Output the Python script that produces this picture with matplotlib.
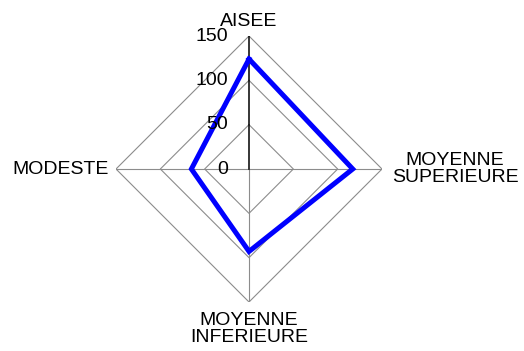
import numpy as np
import matplotlib
matplotlib.use("Agg")
from matplotlib import pyplot as plt

plt.rcParams['font.family'] = ['Liberation Sans', 'DejaVu Sans']

categories = ['AISEE', 'MOYENNE\nSUPERIEURE', 'MOYENNE\nINFERIEURE', 'MODESTE']
values = [124, 117, 93, 65]
rings = [50, 100, 150]
tick_labels = [0, 50, 100, 150]

theta = np.arange(len(categories)) * 2 * np.pi / len(categories)

fig = plt.figure(figsize=(5.24, 3.51), dpi=100)
ax = fig.add_axes([0.2214, 0.1396, 0.5076, 0.7578], projection='polar')
ax.set_theta_zero_location('N')
ax.set_theta_direction(-1)
ax.set_ylim(0, 150)
ax.grid(False)
ax.spines['polar'].set_visible(False)
ax.set_xticks([])
ax.set_yticks([])
ax.patch.set_visible(False)

# diamond grid rings
closed = np.append(theta, theta[0])
for r in rings:
    ax.plot(closed, [r] * len(closed), color='#8c8c8c', lw=0.8, zorder=1)

# spokes, the value axis drawn in black
for i, t in enumerate(theta):
    if i == 0:
        ax.plot([t, t], [0, 150], color='black', lw=1.1, zorder=2)
    else:
        ax.plot([t, t], [0, 150], color='#8c8c8c', lw=0.8, zorder=1)

# series
ax.plot(closed, values + [values[0]], color='#0000ff', lw=3.6, zorder=3,
        solid_joinstyle='miter')

fs = 14

# radial tick labels
for v in tick_labels:
    ax.annotate(str(v), xy=(0, v), xytext=(-15, 0), textcoords='offset points',
                ha='right', va='center', fontsize=fs, zorder=4)

# category labels
ax.annotate(categories[0], xy=(theta[0], 150), xytext=(0, 4), textcoords='offset points',
            ha='center', va='bottom', fontsize=fs)
ax.annotate(categories[1], xy=(theta[1], 150), xytext=(7, 0), textcoords='offset points',
            ha='left', va='center', fontsize=fs, multialignment='center', linespacing=1.05)
ax.annotate(categories[2], xy=(theta[2], 150), xytext=(0, -7), textcoords='offset points',
            ha='center', va='top', fontsize=fs, multialignment='center', linespacing=1.05)
ax.annotate(categories[3], xy=(theta[3], 150), xytext=(-5, 0), textcoords='offset points',
            ha='right', va='center', fontsize=fs)

fig.savefig('out.png', dpi=100)
